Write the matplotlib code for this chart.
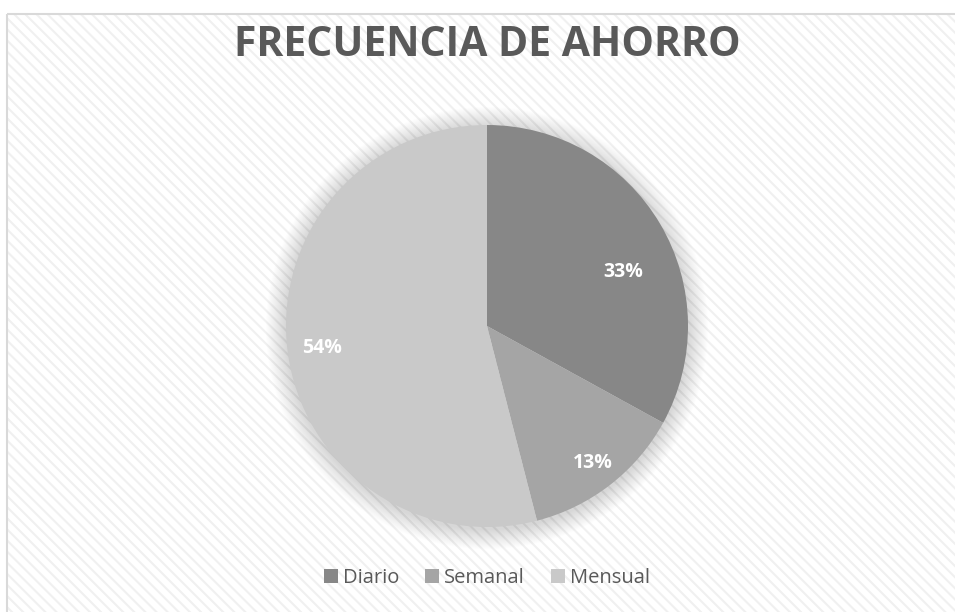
import matplotlib
matplotlib.use("Agg")
import matplotlib.pyplot as plt
import numpy as np
from matplotlib.patches import Rectangle, Circle

categories = ["Diario", "Semanal", "Mensual"]
values = [33, 13, 54]
colors = ["#878787", "#a5a5a5", "#c9c9c9"]
title = "FRECUENCIA DE AHORRO"

# label placement style (radial distance, angular shift in degrees) per slice
label_dist = [0.73, 0.86, 0.83]
label_shift = [-9, 0, 0.5]

plt.rcParams['font.family'] = ['Open Sans', 'DejaVu Sans']
plt.rcParams['hatch.linewidth'] = 1.5

W, H = 955, 612
fig = plt.figure(figsize=(W/100, H/100), dpi=100)
fig.patch.set_facecolor('white')

# background axes covering the whole figure
bax = fig.add_axes([0, 0, 1, 1], zorder=0)
bax.set_xlim(0, W)
bax.set_ylim(H, 0)
bax.axis('off')
bax.add_patch(Rectangle((7, 14), W - 7, H - 14, facecolor='white', edgecolor='#f0f0f0',
                        linewidth=0, hatch='\\\\\\', zorder=0))
bax.add_patch(Rectangle((7, 14), W - 7 + 5, H - 14 + 5, facecolor='none', edgecolor='#d9d9d9',
                        linewidth=1.5, zorder=1))

cx, cy, r = 487, 326, 201
ax = fig.add_axes([(cx - r)/W, (H - cy - r)/H, 2*r/W, 2*r/H], zorder=1)

wedges, texts, autotexts = ax.pie(values, colors=colors, startangle=90, counterclock=False,
                                  radius=1.0, autopct='%d%%', pctdistance=0.72,
                                  wedgeprops=dict(linewidth=0),
                                  textprops=dict(color='white', fontsize=14, fontweight='bold'))
ax.set_xlim(-1, 1)
ax.set_ylim(-1, 1)
ax.set_aspect('equal')
ax.axis('off')

# reposition labels (best-fit style)
for w, t, d, s in zip(wedges, autotexts, label_dist, label_shift):
    mid = np.deg2rad((w.theta1 + w.theta2) / 2 + s)
    t.set_position((d * np.cos(mid), d * np.sin(mid)))
    t.set_zorder(4)

# soft shadow
n = 20
for i in range(n):
    rr = 1.0 + 0.1 * (n - i) / n
    ax.add_patch(Circle((0.0, -0.01), rr, facecolor='#000000', alpha=0.009,
                        edgecolor='none', clip_on=False, zorder=1))
for w in wedges:
    w.set_zorder(3)
    w.set_clip_on(False)

fig.text(cx/W, 1 - 46/H, title, ha='center', va='center', fontsize=29.5,
         fontweight='bold', color='#595959', zorder=5)

handles = [Rectangle((0, 0), 1, 1, facecolor=c, edgecolor='none') for c in colors]
leg = fig.legend(handles, categories, loc='center', bbox_to_anchor=(cx/W, 1 - 578/H),
                 ncol=3, frameon=False, fontsize=14.5, handlelength=0.7, handleheight=0.7,
                 handletextpad=0.25, columnspacing=1.3, labelcolor='#595959')
leg.set_zorder(5)

fig.savefig('out.png', dpi=100)
